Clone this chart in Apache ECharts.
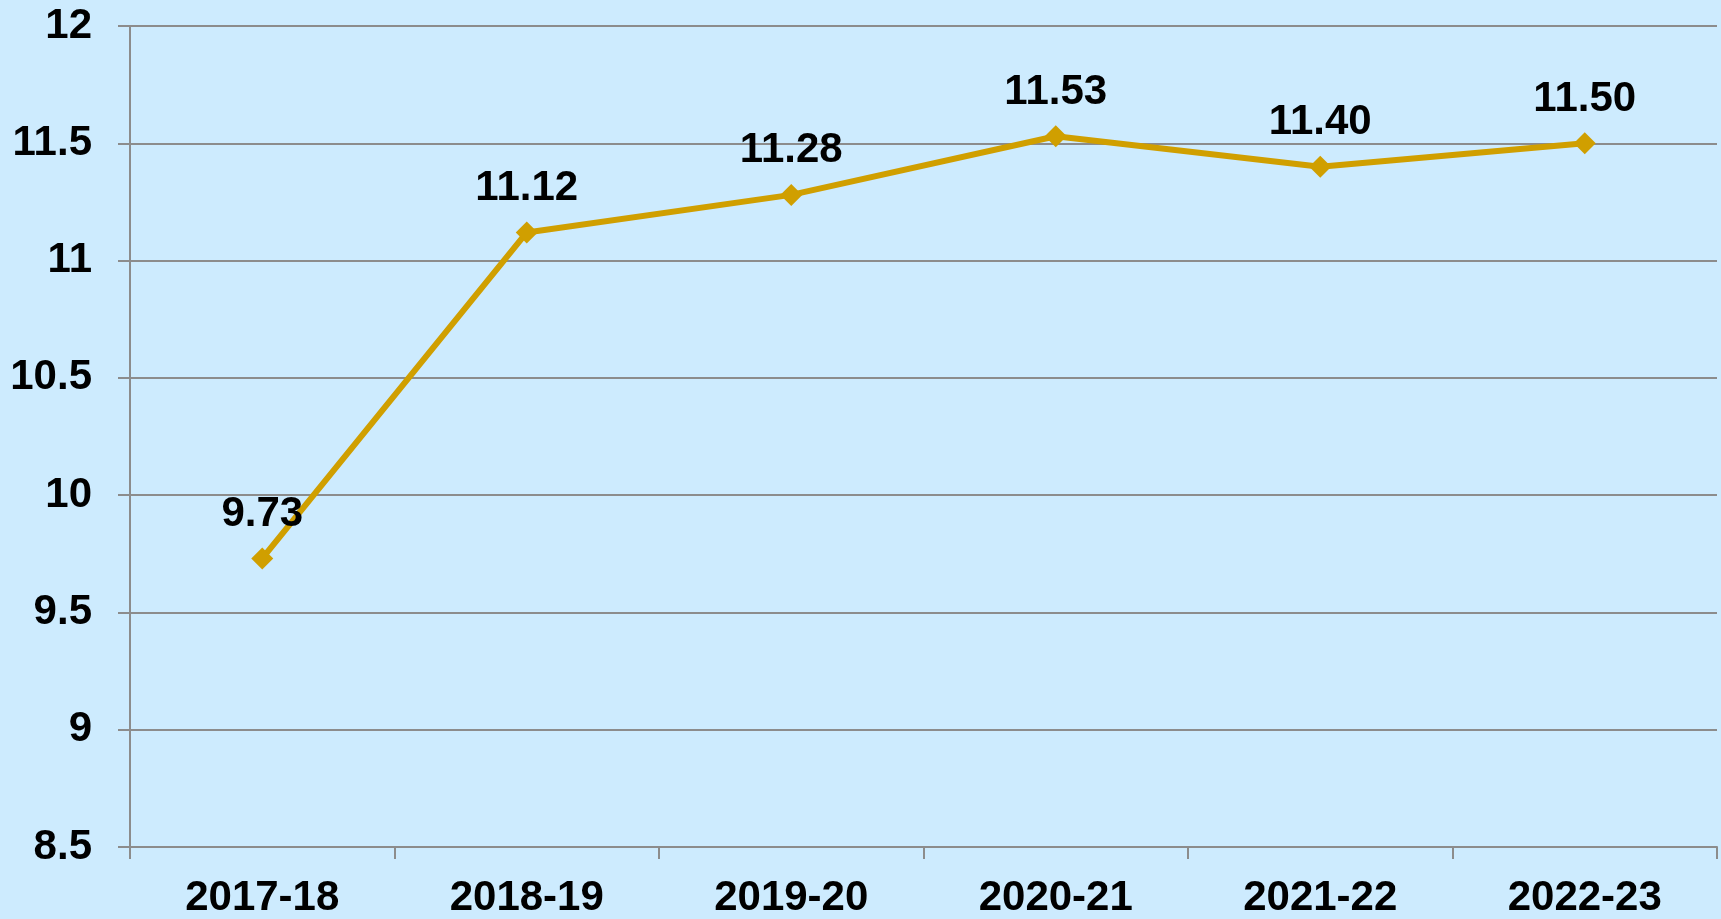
<!DOCTYPE html>
<html>
<head>
<meta charset="utf-8">
<script src="https://cdn.jsdelivr.net/npm/echarts@6/dist/echarts.min.js"></script>
<style>
  html, body { margin: 0; padding: 0; background: #cdebfe; }
  #chart { width: 1721px; height: 919px; }
</style>
</head>
<body>
<div id="chart"></div>
<script>
// years on the x axis
const years = ['2017-18', '2018-19', '2019-20', '2020-21', '2021-22', '2022-23']
// values of the line
const values = [9.73, 11.12, 11.28, 11.53, 11.40, 11.50]
// y axis range
const yMin = 8.5
const yMax = 12
const yStep = 0.5

const gray = '#8c8c8c'
const lineColor = '#d09f00'
const font = '"Liberation Sans", Arial, sans-serif'

let myChart = echarts.init(document.getElementById('chart'))
myChart.setOption({
  backgroundColor: '#cdebfe',
  animation: false,
  grid: {
    left: 130,
    right: 4,
    top: 26,
    bottom: 71
  },
  xAxis: {
    type: 'category',
    data: years,
    boundaryGap: true,
    axisLine: { lineStyle: { color: gray, width: 2 } },
    axisTick: { show: true, alignWithLabel: false, length: 12, lineStyle: { color: gray, width: 2 } },
    axisLabel: {
      color: '#000',
      fontFamily: font,
      fontWeight: 'bold',
      fontSize: 42,
      margin: 30
    }
  },
  yAxis: {
    type: 'value',
    min: yMin,
    max: yMax,
    interval: yStep,
    axisLine: { show: true, lineStyle: { color: gray, width: 2 } },
    axisTick: { show: true, length: 12, lineStyle: { color: gray, width: 2 } },
    splitLine: { lineStyle: { color: gray, width: 2 } },
    axisLabel: {
      color: '#000',
      fontFamily: font,
      fontWeight: 'bold',
      fontSize: 42,
      margin: 38
    }
  },
  series: [
    {
      type: 'line',
      data: values,
      symbol: 'diamond',
      symbolSize: 22,
      lineStyle: { color: lineColor, width: 6 },
      itemStyle: { color: lineColor },
      label: {
        show: true,
        position: 'top',
        distance: 12,
        color: '#000',
        fontFamily: font,
        fontWeight: 'bold',
        fontSize: 42,
        formatter: p => p.value.toFixed(2)
      }
    }
  ]
})
</script>
</body>
</html>
